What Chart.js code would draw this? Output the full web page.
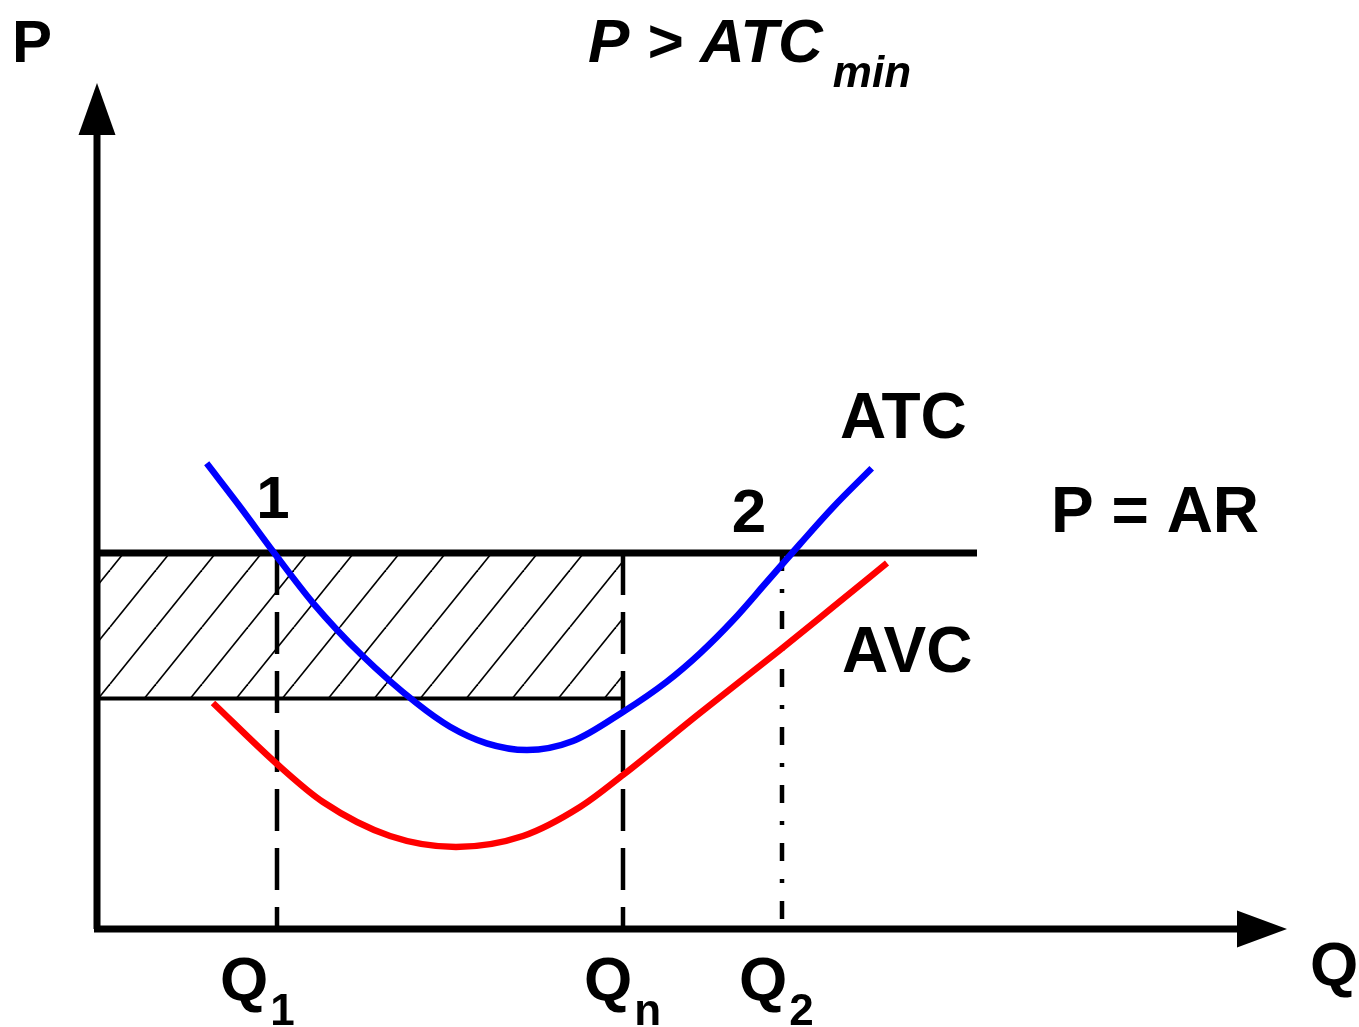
<!DOCTYPE html>
<html lang="en">
<head>
    <meta charset="UTF-8">
    <title>P > ATC min</title>
    <style>
        html, body {
            margin: 0;
            padding: 0;
            background: #fff;
        }
        #wrap {
            width: 1359px;
            height: 1027px;
            position: relative;
        }
    </style>
    <script src="https://cdn.jsdelivr.net/npm/chart.js@4.4.1/dist/chart.umd.min.js"></script>
</head>
<body>
    <div id="wrap"><canvas id="chart"></canvas></div>

    <script>
        // ATC / AVC curves (Q on x, P on y, arbitrary units)
        const atcQ = [10.97, 14.3, 17.63, 21.63, 26.47, 31.97, 35.3, 38.97, 43.0, 47.6, 52.63, 56.97, 60.3, 63.63, 66.97, 70.3, 73.63, 77.47];
        const atcP = [46.57, 42.23, 37.73, 32.57, 27.4, 22.57, 20.23, 18.57, 17.9, 18.8, 21.73, 24.73, 27.57, 30.9, 34.7, 38.5, 42.2, 46.07];
        const avcQ = [11.6, 18.0, 22.6, 29.3, 35.9, 42.6, 48.3, 52.6, 60.3, 68.3, 73.6, 79.0];
        const avcP = [22.6, 16.5, 12.7, 9.3, 8.2, 9.3, 12.2, 15.4, 21.6, 27.9, 32.2, 36.6];

        // price line P = AR and the hatched area below it
        const priceLevel = 37.6;
        const priceEnd = 88;
        const areaLow = 23.05;

        // marked quantities on the Q axis
        const qNames = ['1', 'n', '2'];
        const qValues = [18.0, 52.6, 68.5];

        // axis lengths (before the arrow heads)
        const axisEndQ = 114;
        const axisEndP = 79.4;

        // hatch fill for the area
        function makeHatch() {
            const w = 46, h = 57;
            const c = document.createElement('canvas');
            c.width = w;
            c.height = h;
            const g = c.getContext('2d');
            g.strokeStyle = '#000';
            g.lineWidth = 1.7;
            for (let k = -1; k <= 1; k++) {
                g.beginPath();
                g.moveTo(k * w, h);
                g.lineTo(k * w + w, 0);
                g.stroke();
            }
            const p = g.createPattern(c, 'repeat');
            p.setTransform(new DOMMatrix().translate(18, 0));
            return p;
        }

        const pts = (xs, ys) => xs.map((x, i) => ({ x: x, y: ys[i] }));
        const FONT = '"Liberation Sans", Arial, sans-serif';

        // where the "Q" of each tick label starts, left of the tick
        const qLabelShift = [57, 39, 43];

        // axes arrows and all the text
        const diagramPlugin = {
            id: 'diagram',
            afterDatasetsDraw(chart) {
                const ctx = chart.ctx;
                const sx = chart.scales.x, sy = chart.scales.y;
                const X = v => sx.getPixelForValue(v);
                const Y = v => sy.getPixelForValue(v);

                ctx.save();
                ctx.fillStyle = '#000';

                // arrow heads
                const x0 = X(0), y0 = Y(0);
                ctx.beginPath();
                ctx.moveTo(x0, Y(axisEndP) - 52);
                ctx.lineTo(x0 - 18.5, Y(axisEndP));
                ctx.lineTo(x0 + 18.5, Y(axisEndP));
                ctx.closePath();
                ctx.fill();

                ctx.beginPath();
                ctx.moveTo(X(axisEndQ) + 50, y0);
                ctx.lineTo(X(axisEndQ), y0 - 18.5);
                ctx.lineTo(X(axisEndQ), y0 + 18.5);
                ctx.closePath();
                ctx.fill();

                const text = (t, x, y, size, align, style) => {
                    ctx.font = (style || 'bold') + ' ' + size + 'px ' + FONT;
                    ctx.textAlign = align || 'left';
                    ctx.textBaseline = 'alphabetic';
                    ctx.fillText(t, X(x), Y(y));
                };

                // axis names
                text('P', -6.5, 86.7, 60, 'center');
                text('Q', 121.3, -5.6, 62);

                // title P > ATCmin
                ctx.font = 'italic bold 62px ' + FONT;
                const w = ctx.measureText('P > ATC').width;
                text('P > ATC', 49.1, 86.7, 62, 'left', 'italic bold');
                ctx.font = 'italic bold 44px ' + FONT;
                ctx.textAlign = 'left';
                ctx.fillText('min', X(49.1) + w + 10, Y(84.2));

                // curve labels
                text('ATC', 74.3, 49.1, 64);
                text('P = AR', 95.4, 39.7, 64);
                text('AVC', 74.5, 25.7, 64);

                // points 1 and 2
                text('1', 17.6, 41.1, 60, 'center');
                text('2', 65.2, 39.7, 62, 'center');

                // Q ticks with subscripts
                qValues.forEach((q, i) => {
                    ctx.font = 'bold 62px ' + FONT;
                    const qw = ctx.measureText('Q').width;
                    const left = X(q) - qLabelShift[i];
                    ctx.textAlign = 'left';
                    ctx.fillText('Q', left, Y(-7.1));
                    ctx.font = 'bold 44px ' + FONT;
                    ctx.fillText(qNames[i], left + qw + 2, Y(-9.6));
                });

                ctx.restore();
            }
        };

        window.onload = function() {
            const ctx = document.getElementById('chart').getContext('2d');
            const hatch = makeHatch();

            const vline = (q, dash) => ({
                data: [{ x: q, y: priceLevel }, { x: q, y: 0 }],
                borderColor: '#000',
                borderWidth: 4.5,
                borderDash: dash,
                order: 5
            });

            new Chart(ctx, {
                type: 'line',
                data: {
                    datasets: [
                        {
                            label: 'ATC',
                            data: pts(atcQ, atcP),
                            borderColor: '#0000ff',
                            borderWidth: 6.5,
                            cubicInterpolationMode: 'monotone',
                            order: 1
                        },
                        {
                            label: 'AVC',
                            data: pts(avcQ, avcP),
                            borderColor: '#ff0000',
                            borderWidth: 6.5,
                            cubicInterpolationMode: 'monotone',
                            order: 1
                        },
                        {
                            label: 'P = AR',
                            data: [{ x: 0, y: priceLevel }, { x: priceEnd, y: priceLevel }],
                            borderColor: '#000',
                            borderWidth: 7,
                            order: 3
                        },
                        {
                            label: 'area',
                            data: [{ x: 0, y: priceLevel }, { x: qValues[1], y: priceLevel }],
                            borderWidth: 0,
                            borderColor: 'rgba(0,0,0,0)',
                            backgroundColor: hatch,
                            fill: { value: areaLow },
                            order: 10
                        },
                        {
                            label: 'area low',
                            data: [{ x: 0.3, y: areaLow }, { x: 52.4, y: areaLow }],
                            borderColor: '#000',
                            borderWidth: 4,
                            order: 4
                        },
                        vline(qValues[0], [42, 17]),
                        vline(qValues[1], [42, 17]),
                        vline(qValues[2], [18, 18, 4, 18]),
                        {
                            label: 'Q axis',
                            data: [{ x: -0.3, y: 0 }, { x: axisEndQ, y: 0 }],
                            borderColor: '#000',
                            borderWidth: 7,
                            order: 2
                        },
                        {
                            label: 'P axis',
                            data: [{ x: 0, y: 0 }, { x: 0, y: axisEndP }],
                            borderColor: '#000',
                            borderWidth: 7,
                            order: 2
                        }
                    ]
                },
                options: {
                    responsive: true,
                    maintainAspectRatio: false,
                    animation: false,
                    clip: false,
                    layout: {
                        padding: { left: 97, right: 62, top: 79, bottom: 98 }
                    },
                    elements: {
                        point: { radius: 0, hoverRadius: 0 },
                        line: { borderCapStyle: 'butt', fill: false }
                    },
                    scales: {
                        x: { type: 'linear', min: 0, max: 120, display: false },
                        y: { type: 'linear', min: 0, max: 85, display: false }
                    },
                    plugins: {
                        legend: { display: false },
                        tooltip: { enabled: false }
                    },
                    events: []
                },
                plugins: [diagramPlugin]
            });
        };
    </script>
</body>
</html>
